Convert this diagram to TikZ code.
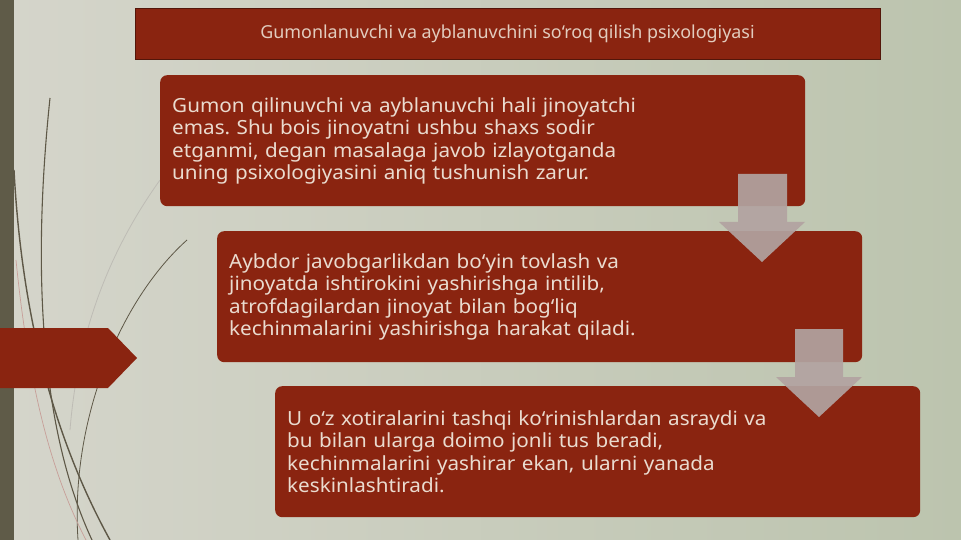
\documentclass[tikz,border=0pt]{standalone}
\usepackage{fontspec}
\setmainfont{Noto Sans}
\newfontfamily\bodysans[FakeStretch=1.06]{Noto Sans}
\usetikzlibrary{positioning}
\frenchspacing

\definecolor{bgleft}{HTML}{D5D5CB}
\definecolor{bgright}{HTML}{BCC4AE}
\definecolor{stripe}{HTML}{5F5B48}
\definecolor{boxred}{HTML}{8A2410}
\definecolor{boxtext}{HTML}{EADBCF}
\definecolor{titletext}{HTML}{E2CCBE}
\definecolor{arrowgray}{HTML}{B2A3A1}
\definecolor{stem}{HTML}{5E5847}

\begin{document}
\begin{tikzpicture}[x=1pt,y=-1pt,
    textbox/.style={fill=boxred, rounded corners=7pt, anchor=north west,
      minimum width=645pt, minimum height=131pt, text width=621pt,
      inner xsep=12pt, align=left, text=boxtext,
      font=\bodysans\fontsize{19.5}{22.5}\selectfont},
    blockarrow/.style={fill=arrowgray, opacity=.92}]
        % background and left border
        \shade[left color=bgleft, right color=bgright] (0,0) rectangle (961,540);
        \useasboundingbox (0,0) rectangle (961,540);
        \fill[stripe] (0,0) rectangle (14,540);

        % grass stems
        \draw[stem, line width=1.1pt] (50,98) .. controls (34,250) and (36,420) .. (92,540);
        \draw[stem, line width=1.4pt] (14,170) .. controls (22,320) and (55,440) .. (110,540);
        \draw[stem, line width=.8pt] (187,240) .. controls (120,300) and (70,420) .. (78,540);
        \draw[stem!40, line width=.8pt] (160,180) .. controls (110,250) and (78,330) .. (70,430);
        \draw[red!30!stem!50, line width=.7pt] (16,260) .. controls (30,400) and (55,480) .. (86,540);

        % left tab
        \fill[boxred] (0,328) -- (108,328) -- (137,358) -- (108,388) -- (0,388) -- cycle;

        % title
        \node[fill=boxred, draw=boxred!60!black, line width=.8pt,
          minimum width=745pt, minimum height=51pt, text=titletext,
          font=\fontsize{17.9}{20}\selectfont] (title) at (507.5,33.5)
          {Gumonlanuvchi va ayblanuvchini so‘roq qilish psixologiyasi};

        % the three statements
        \node[textbox] (first) at (160,75)
          {Gumon qilinuvchi va ayblanuvchi hali jinoyatchi\\
           emas. Shu bois jinoyatni ushbu shaxs sodir\\
           etganmi, degan masalaga javob izlayotganda\\
           uning psixologiyasini aniq tushunish zarur.};
        \node[textbox] (second) at (217,231)
          {Aybdor javobgarlikdan bo‘yin tovlash va\\
           jinoyatda ishtirokini yashirishga intilib,\\
           atrofdagilardan jinoyat bilan bog‘liq\\
           kechinmalarini yashirishga harakat qiladi.};
        \node[textbox] (third) at (275,386)
          {U o‘z xotiralarini tashqi ko‘rinishlardan asraydi va\\
           bu bilan ularga doimo jonli tus beradi,\\
           kechinmalarini yashirar ekan, ularni yanada\\
           keskinlashtiradi.};

        % down arrows
        \fill[blockarrow] (738,174) -- (787,174) -- (787,222) -- (805,222)
          -- (762,262) -- (719,222) -- (738,222) -- cycle;
        \fill[blockarrow] (795,329) -- (843,329) -- (843,377) -- (862,377)
          -- (819,417) -- (776,377) -- (795,377) -- cycle;
\end{tikzpicture}
\end{document}
